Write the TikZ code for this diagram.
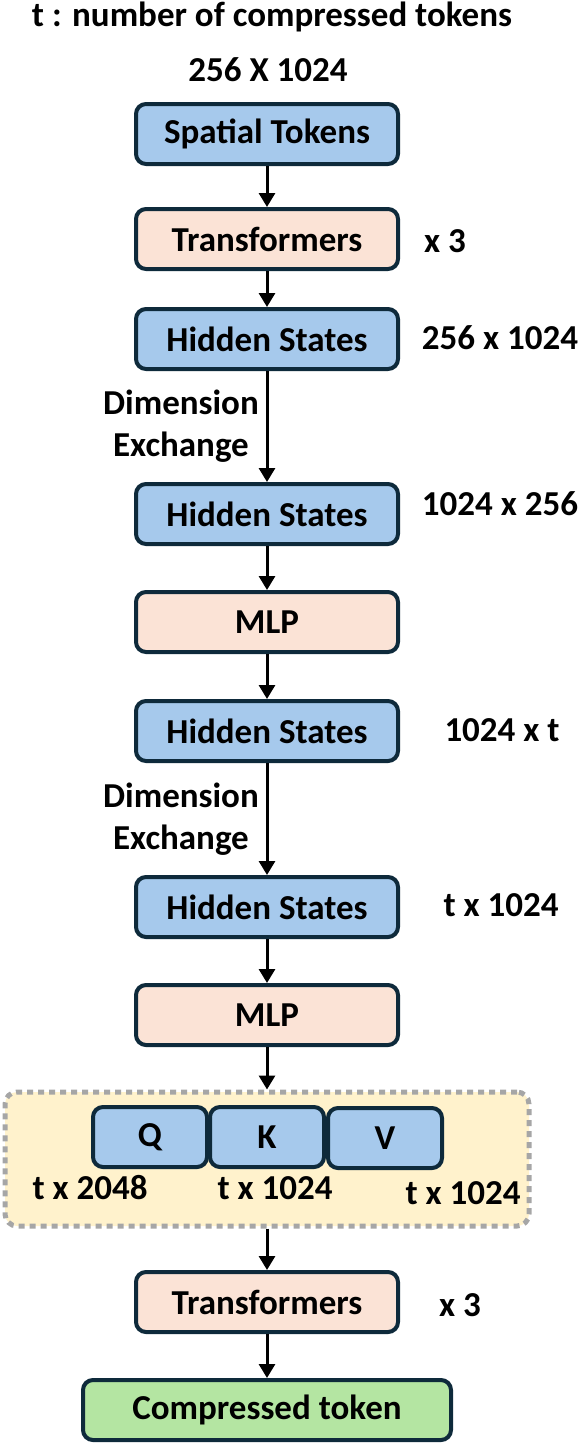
\documentclass[tikz,border=0pt]{standalone}
\usepackage{fontspec}
\setmainfont{Carlito}
\usetikzlibrary{arrows.meta}

\definecolor{boxline}{HTML}{0E2A3B}
\definecolor{tokblue}{HTML}{A6C9EC}
\definecolor{opsalmon}{HTML}{FBE3D6}
\definecolor{outgreen}{HTML}{B4E5A2}
\definecolor{qkvyellow}{HTML}{FFF2CC}
\definecolor{dashgray}{HTML}{A6A6A6}

\begin{document}
\begin{tikzpicture}[x=0.5pt,y=-0.5pt,
  font=\fontsize{17.5}{21}\selectfont\bfseries,
  blk/.style={draw=boxline,line width=2pt,rounded corners=5pt,
    minimum width=131pt,minimum height=30pt,inner sep=0pt},
  tok/.style={blk,fill=tokblue},
  op/.style={blk,fill=opsalmon},
  qkv/.style={tok,minimum width=57pt},
  flow/.style={-{Triangle[length=7pt,width=8pt]},line width=1.5pt}]
  \useasboundingbox (0,0) rectangle (581,1447);

  % header
  \node (legend) at (272,17) {t : number of compressed tokens};
  \node (insize) at (268,70) {256 X 1024};

  % main column
  \node[tok] (spatial) at (267,134) {Spatial Tokens};
  \node[op]  (trA)     at (267,239) {Transformers};
  \node[tok] (hidA)    at (267,339) {Hidden States};
  \node[tok] (hidB)    at (267,514) {Hidden States};
  \node[op]  (mlpA)    at (267,622) {MLP};
  \node[tok] (hidC)    at (267,731) {Hidden States};
  \node[tok] (hidD)    at (267,907) {Hidden States};
  \node[op]  (mlpB)    at (267,1015) {MLP};

  % attention inputs
  \node[fill=qkvyellow,draw=dashgray,line width=2.5pt,dash pattern=on 3pt off 2.5pt,
    rounded corners=6pt,minimum width=262pt,minimum height=67pt] (frame) at (267,1159) {};
  \node[qkv] (q) at (150,1137) {Q};
  \node[qkv] (k) at (267,1137) {K};
  \node[qkv] (v) at (385,1138) {V};
  \node (qdim) at (90,1188) {t x 2048};
  \node (kdim) at (275,1188) {t x 1024};
  \node (vdim) at (463,1193) {t x 1024};

  \node[op] (trB) at (267,1302) {Transformers};
  \node[blk,fill=outgreen,minimum width=184pt] (out) at (267,1410) {Compressed token};

  % side labels
  \node (repA) at (445,241) {x 3};
  \node (dimA) at (500,338) {256 x 1024};
  \node (dimB) at (500,504) {1024 x 256};
  \node (dimC) at (502,730) {1024 x t};
  \node (dimD) at (501,905) {t x 1024};
  \node (repB) at (460,1305) {x 3};

  % arrows
  \draw[flow] (spatial) -- (trA);
  \draw[flow] (trA) -- (hidA);
  \draw[flow] (hidA) -- (hidB)
    node[midway,left=0pt,align=center] (exA) {Dimension\\Exchange};
  \draw[flow] (hidB) -- (mlpA);
  \draw[flow] (mlpA) -- (hidC);
  \draw[flow] (hidC) -- (hidD)
    node[midway,left=0pt,align=center] (exB) {Dimension\\Exchange};
  \draw[flow] (hidD) -- (mlpB);
  \draw[flow] (mlpB) -- (frame);
  \draw[flow] (frame) -- (trB);
  \draw[flow] (trB) -- (out);
\end{tikzpicture}
\end{document}
